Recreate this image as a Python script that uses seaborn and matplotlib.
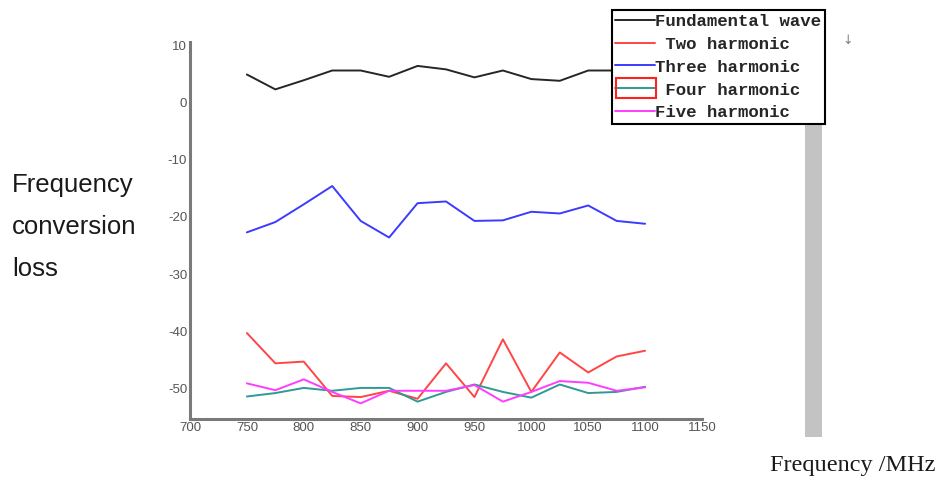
import matplotlib
matplotlib.use("Agg")
import matplotlib.pyplot as plt
import pandas as pd
import seaborn as sns
from matplotlib.patches import Rectangle

# frequency points (MHz)
freqs = [750, 775, 800, 825, 850, 875, 900, 925, 950, 975, 1000, 1025, 1050, 1075, 1100]

# conversion loss per harmonic (dB)
fundamental = [4.9, 2.3, 3.9, 5.6, 5.6, 4.5, 6.4, 5.8, 4.4, 5.6, 4.1, 3.8, 5.6, 5.6, 5.6]
two_harm = [-40.3, -45.6, -45.3, -51.3, -51.5, -50.4, -51.8, -45.6, -51.5, -41.4, -50.6, -43.7, -47.2, -44.4, -43.4]
three_harm = [-22.7, -20.9, -17.8, -14.6, -20.7, -23.6, -17.6, -17.3, -20.7, -20.6, -19.1, -19.4, -18.0, -20.7, -21.2]
four_harm = [-51.4, -50.8, -49.9, -50.4, -49.9, -49.9, -52.3, -50.6, -49.3, -50.6, -51.6, -49.3, -50.8, -50.6, -49.7]
five_harm = [-49.1, -50.3, -48.4, -50.6, -52.6, -50.4, -50.4, -50.4, -49.4, -52.3, -50.6, -48.7, -49.0, -50.4, -49.8]

series_names = ["Fundamental wave", " Two harmonic", "Three harmonic", " Four harmonic", "Five harmonic"]
series_colors = ["#262626", "#ff4545", "#3b3bff", "#2f9a94", "#ff3cff"]
x_ticks = [700, 750, 800, 850, 900, 950, 1000, 1050, 1100, 1150]
y_ticks = [10, 0, -10, -20, -30, -40, -50]

rows = []
for name, vals in zip(series_names, [fundamental, two_harm, three_harm, four_harm, five_harm]):
    for f, v in zip(freqs, vals):
        rows.append({"freq": f, "loss": v, "series": name})
df = pd.DataFrame(rows)

sns.set_style("white")
plt.rcParams["axes.unicode_minus"] = False
fig = plt.figure(figsize=(9.38, 4.80), dpi=100)
ax = fig.add_axes([190 / 938, 0.1275, 512 / 938, 0.784])

sns.lineplot(
    data=df, x="freq", y="loss", hue="series", hue_order=series_names,
    palette=series_colors, linewidth=1.4, ax=ax, legend=True,
)

ax.set_xlim(700, 1150)
ax.set_ylim(-55.3, 10.5)
ax.set_xticks(x_ticks)
ax.set_yticks(y_ticks)
ax.set_xlabel("")
ax.set_ylabel("")
for s in ["top", "right"]:
    ax.spines[s].set_visible(False)
for s in ["left", "bottom"]:
    ax.spines[s].set_color("#7a7a7a")
    ax.spines[s].set_linewidth(2.2)
ax.tick_params(axis="both", length=0, pad=2, labelsize=9.5, labelcolor="#555555")
for lbl in ax.get_xticklabels() + ax.get_yticklabels():
    lbl.set_family("Liberation Sans")

handles, labels = ax.get_legend_handles_labels()
ax.get_legend().remove()
leg = fig.legend(
    handles, labels, loc="upper left", bbox_to_anchor=(612 / 938, 1 - 10 / 480),
    bbox_transform=fig.transFigure,
    prop={"family": "Liberation Mono", "size": 12.5, "weight": "bold"},
    frameon=True, fancybox=False, edgecolor="black", framealpha=1,
    handlelength=2.3, handletextpad=0.0, labelspacing=0.45, borderpad=0.2,
    borderaxespad=0,
)
leg.get_frame().set_linewidth(1.5)
leg.set_zorder(10)

# red box around the fourth legend handle, as in the source image
fig.canvas.draw()
renderer = fig.canvas.get_renderer()
hb = leg.legend_handles[3].get_window_extent(renderer)
inv = fig.transFigure.inverted()
(x0, y0), (x1, y1) = inv.transform([(hb.x0 + 1, hb.y0 - 10), (hb.x1 + 1, hb.y1 + 10)])
fig.patches.append(Rectangle((x0, y0), x1 - x0, y1 - y0, transform=fig.transFigure,
                             fill=False, edgecolor="#ff2020", linewidth=1.5, zorder=11))

# grey strip on the right
fig.patches.append(Rectangle((805 / 938, 1 - 437 / 480), 17 / 938, 315 / 480,
                             transform=fig.transFigure, facecolor="#c3c3c3",
                             edgecolor="none", zorder=1))

fig.text(848 / 938, 1 - 40 / 480, "\u2193", fontsize=9, color="#808080", ha="center", va="center")

fig.text(12 / 938, 1 - 227 / 480, "Frequency\nconversion\nloss", family="Liberation Sans",
         fontsize=18.5, color="#1a1a1a", ha="left", va="center", linespacing=1.95)
fig.text(770 / 938, 1 - 466 / 480, "Frequency /MHz", family="Liberation Serif",
         fontsize=17.5, color="#1a1a1a", ha="left", va="center")

fig.savefig("out.png", dpi=100)
